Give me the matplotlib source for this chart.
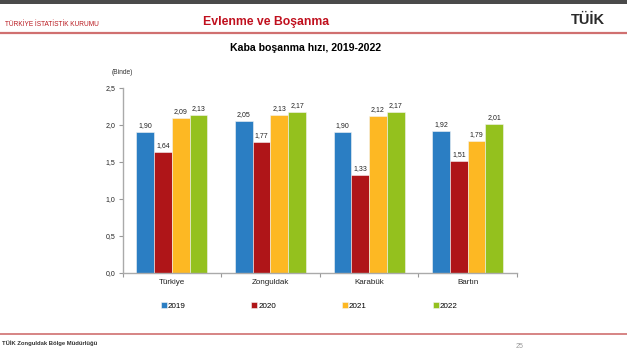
import numpy as np
import matplotlib.pyplot as plt
from matplotlib.patches import Rectangle

plt.rcParams['font.family'] = ['Liberation Sans', 'DejaVu Sans']

# kaba boşanma hızı (binde)
regions = ['Türkiye', 'Zonguldak', 'Karabük', 'Bartın']
years = ['2019', '2020', '2021', '2022']
rate_2019 = [1.90, 2.05, 1.90, 1.92]
rate_2020 = [1.64, 1.77, 1.33, 1.51]
rate_2021 = [2.09, 2.13, 2.12, 1.79]
rate_2022 = [2.13, 2.17, 2.17, 2.01]
series = [rate_2019, rate_2020, rate_2021, rate_2022]
colors = ['#2B7EC3', '#AF1518', '#FDB823', '#94C11E']
yticks = [0.0, 0.5, 1.0, 1.5, 2.0, 2.5]

W, H = 627, 349
fig = plt.figure(figsize=(W / 100, H / 100), dpi=100)
fig.patch.set_facecolor('white')

# slide header / footer
fig.add_artist(Rectangle((0, 1 - 4 / H), 1, 4 / H, transform=fig.transFigure,
                         color='#4a4a4a', lw=0))
fig.add_artist(plt.Line2D([0, 1], [1 - 33 / H, 1 - 33 / H], transform=fig.transFigure,
                          color='#d07070', lw=1.6))
fig.add_artist(plt.Line2D([0, 1], [1 - 334 / H, 1 - 334 / H], transform=fig.transFigure,
                          color='#d07070', lw=1.2))
fig.text(5 / W, 1 - 25 / H, 'TÜRKİYE İSTATİSTİK KURUMU', color='#b8161c', fontsize=4.7,
         va='center', ha='left')
fig.text(266 / W, 1 - 22 / H, 'Evlenme ve Boşanma', color='#c0101e', fontsize=8.8,
         fontweight='bold', va='center', ha='center')
fig.text(605 / W, 1 - 20 / H, 'TÜİK', color='#2a2a2a', fontsize=10.5, fontweight='bold',
         va='center', ha='right')
fig.text(2 / W, 1 - 343 / H, 'TÜİK Zonguldak Bölge Müdürlüğü', color='#333333', fontsize=4.2,
         fontweight='bold', va='center', ha='left')
fig.text(520 / W, 1 - 346 / H, '25', color='#999999', fontsize=5, va='center', ha='center')

fig.text(306 / W, 1 - 48 / H, 'Kaba boşanma hızı, 2019-2022', fontsize=7.6,
         fontweight='bold', va='center', ha='center')
fig.text(112 / W, 1 - 72 / H, '(Binde)', fontsize=4.8, va='center', ha='left', color='#333333')

# plot area
left, right, top, bottom = 122.5, 517, 88, 273
ax = fig.add_axes([left / W, 1 - bottom / H, (right - left) / W, (bottom - top) / H])

x = np.arange(len(regions))
bw = 0.18
for i, (vals, c, yr) in enumerate(zip(series, colors, years)):
    pos = x + (i - 1.5) * bw
    ax.bar(pos, vals, bw, color=c, edgecolor='#f4f4f4', linewidth=0.4, label=yr)
    for px, v in zip(pos, vals):
        ax.text(px, v + 0.04, f'{v:.2f}'.replace('.', ','), ha='center', va='bottom',
                fontsize=5.0, color='#222222')

ax.set_xlim(-0.5, len(regions) - 0.5)
ax.set_ylim(0, 2.5)
ax.set_yticks(yticks)
ax.set_yticklabels([f'{t:.1f}'.replace('.', ',') for t in yticks], fontsize=5.0, color='#222222')
ax.set_xticks(x)
ax.set_xticklabels(regions, fontsize=5.8, color='#222222')
ax.tick_params(axis='x', length=0, pad=4)
ax.set_xticks(np.arange(len(regions) + 1) - 0.5, minor=True)
ax.tick_params(axis='x', which='minor', length=3, color='#999999', width=0.8)
ax.tick_params(axis='y', length=3, color='#999999', width=0.8, pad=2)
for s in ['top', 'right']:
    ax.spines[s].set_visible(False)
for s in ['left', 'bottom']:
    ax.spines[s].set_color('#aaaaaa')
    ax.spines[s].set_linewidth(1.0)

leg = fig.legend(loc='center', bbox_to_anchor=(309 / W, 1 - 306 / H), ncol=4, frameon=False,
                 fontsize=5.8, handlelength=0.75, handleheight=0.75, handletextpad=0.1,
                 columnspacing=8.2)

fig.savefig('out.png', dpi=100)
